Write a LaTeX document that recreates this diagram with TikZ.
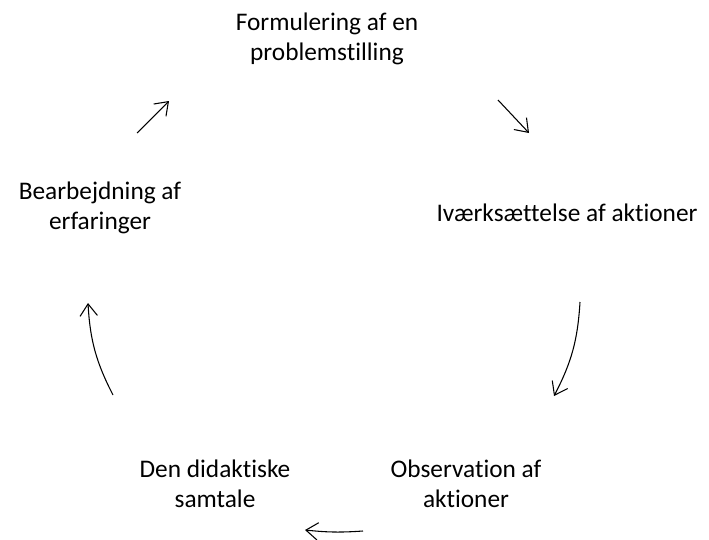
\documentclass[tikz,border=0pt]{standalone}
\usepackage{fontspec}
\setmainfont{Carlito}[Ligatures=NoCommon]
\usetikzlibrary{arrows.meta}

\tikzset{
    fase/.style={align=center,font=\fontsize{19}{22.5}\selectfont,inner sep=0pt},
    pil/.style={black,line width=0.8pt,-{Straight Barb[length=9pt,width=13pt]}}
}

\begin{document}
\begin{tikzpicture}[x=0.75pt,y=-0.75pt]
            \useasboundingbox (0,0) rectangle (709,539);

            \node[fase] (form) at (327,39) {Formulering af en\\problemstilling};
            \node[fase] (ivaerk) at (567,213) {Iværksættelse af aktioner};
            \node[fase] (obs) at (466,484) {Observation af\\aktioner};
            \node[fase] (samtale) at (215,484) {Den didaktiske\\samtale};
            \node[fase] (bearb) at (100,208) {Bearbejdning af\\erfaringer};

            \coordinate (p1a) at (137,133);
            \coordinate (p1b) at (169,101);
            \coordinate (p2a) at (498,100);
            \coordinate (p2b) at (529,133);
            \coordinate (p3a) at (580,302);
            \coordinate (p3b) at (554,396);
            \coordinate (p4a) at (363,531);
            \coordinate (p4b) at (305,530);
            \coordinate (p5a) at (113,395);
            \coordinate (p5b) at (88,303);

            \draw[pil] (p1a) -- (p1b);
            \draw[pil] (p2a) -- (p2b);
            \draw[pil] (p3a) to[bend left=12] (p3b);
            \draw[pil] (p4a) to[bend left=5] (p4b);
            \draw[pil] (p5a) to[bend left=12] (p5b);
        \end{tikzpicture}
\end{document}
